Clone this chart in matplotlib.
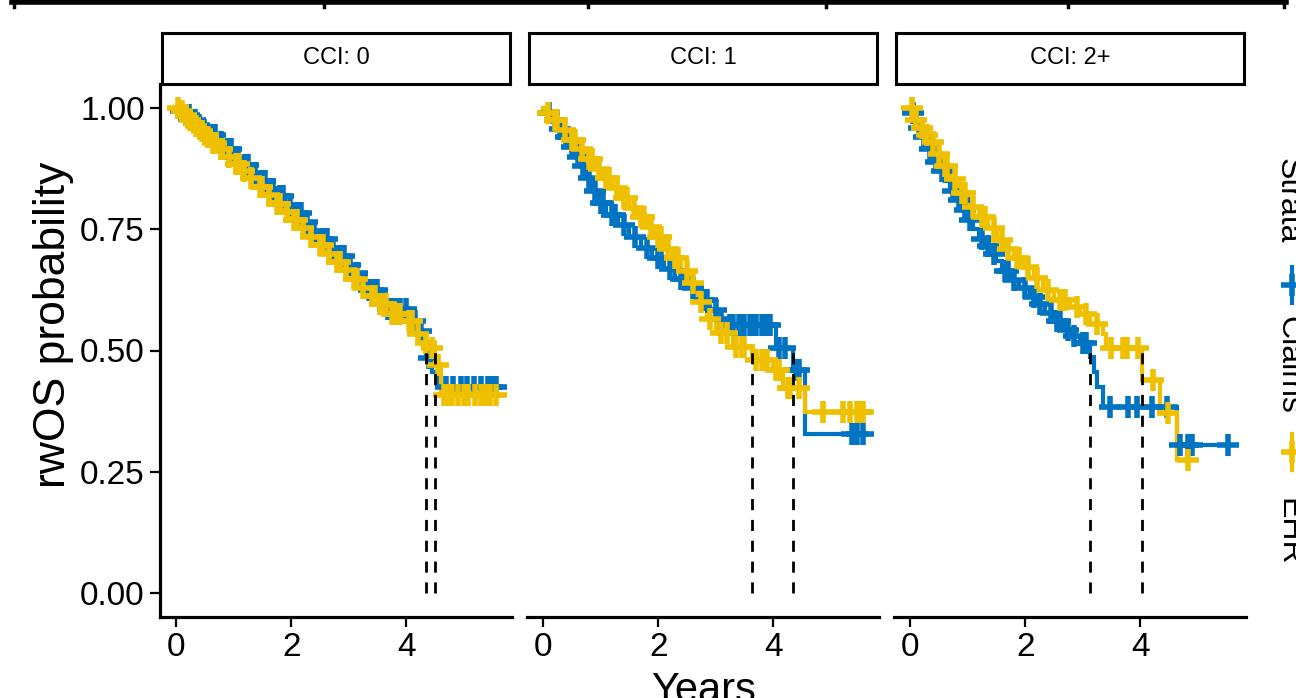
import numpy as np
import matplotlib
matplotlib.use("Agg")
import matplotlib.pyplot as plt
from matplotlib.lines import Line2D

plt.rcParams['font.family'] = ['Liberation Sans', 'DejaVu Sans']

# ---------------- data ----------------
panel_titles = ["CCI: 0", "CCI: 1", "CCI: 2+"]
strata_names = ["Claims", "EHR"]
strata_colors = ["#0073C2", "#EFC000"]
x_ticks = [0, 2, 4]
y_ticks = [0.00, 0.25, 0.50, 0.75, 1.00]
y_ticklabels = ["0.00", "0.25", "0.50", "0.75", "1.00"]

# CCI: 0
p1_claims_t = [0.05, 0.15, 0.25, 0.35, 0.45, 0.55, 0.7, 0.85, 1.0, 1.15, 1.3, 1.45, 1.6, 1.75, 1.9,
               2.05, 2.2, 2.35, 2.5, 2.65, 2.8, 2.95, 3.1, 3.25, 3.3, 3.6, 3.65, 4.1, 4.2, 4.3, 4.35,
               4.45, 4.55]
p1_claims_s = [0.995, 0.985, 0.975, 0.965, 0.955, 0.945, 0.93, 0.915, 0.898, 0.882, 0.866, 0.85, 0.834,
               0.818, 0.80, 0.783, 0.765, 0.747, 0.73, 0.712, 0.694, 0.676, 0.66, 0.64, 0.625, 0.60,
               0.585, 0.56, 0.54, 0.51, 0.485, 0.455, 0.425]
p1_claims_cens = [0.08, 0.18, 0.22, 0.32, 0.4, 0.48, 0.6, 0.67, 0.78, 0.9, 0.95, 1.08, 1.2, 1.25, 1.38,
                  1.5, 1.55, 1.68, 1.8, 1.85, 1.98, 2.1, 2.18, 2.28, 2.4, 2.55, 2.62, 2.72, 2.85, 2.92,
                  3.02, 3.15, 3.28, 3.35, 3.42, 3.5, 3.68, 3.75, 3.82, 3.9, 4.0, 4.15, 4.25, 4.4, 4.7,
                  4.82, 4.95, 5.05, 5.18, 5.3, 5.42, 5.5, 5.56]
p1_ehr_t = [0.05, 0.12, 0.2, 0.3, 0.4, 0.5, 0.6, 0.72, 0.85, 1.0, 1.12, 1.25, 1.4, 1.55, 1.7, 1.85,
            2.0, 2.15, 2.3, 2.45, 2.6, 2.75, 2.9, 3.05, 3.2, 3.35, 3.5, 3.7, 3.95, 4.15, 4.3, 4.4,
            4.5, 4.6]
p1_ehr_s = [0.995, 0.985, 0.975, 0.963, 0.952, 0.94, 0.928, 0.915, 0.9, 0.885, 0.87, 0.855, 0.838,
            0.82, 0.803, 0.786, 0.77, 0.752, 0.735, 0.718, 0.70, 0.683, 0.666, 0.648, 0.63, 0.612,
            0.595, 0.575, 0.56, 0.535, 0.515, 0.505, 0.47, 0.408]
p1_ehr_cens = [0.03, 0.1, 0.17, 0.25, 0.35, 0.45, 0.55, 0.65, 0.7, 0.8, 0.92, 1.05, 1.1, 1.18, 1.3,
               1.45, 1.5, 1.62, 1.75, 1.8, 1.92, 2.05, 2.1, 2.2, 2.35, 2.5, 2.55, 2.65, 2.8, 2.85,
               2.95, 3.1, 3.15, 3.25, 3.4, 3.45, 3.55, 3.6, 3.65, 3.75, 3.8, 3.85, 3.9, 4.05, 4.1,
               4.2, 4.35, 4.45, 4.55, 4.65, 4.72, 4.8, 4.9, 5.0, 5.08, 5.2, 5.3, 5.38, 5.45, 5.56]

# CCI: 1
p2_claims_t = [0.05, 0.15, 0.25, 0.35, 0.45, 0.55, 0.65, 0.75, 0.85, 0.95, 1.1, 1.3, 1.5, 1.7, 1.9,
               2.1, 2.3, 2.5, 2.7, 2.9, 3.05, 3.2, 4.05, 4.35, 4.56]
p2_claims_s = [0.99, 0.975, 0.958, 0.94, 0.92, 0.90, 0.88, 0.855, 0.83, 0.805, 0.78, 0.758, 0.735,
               0.712, 0.69, 0.668, 0.648, 0.628, 0.605, 0.583, 0.565, 0.553, 0.505, 0.46, 0.327]
p2_claims_cens = [0.1, 0.2, 0.3, 0.4, 0.5, 0.6, 0.7, 0.8, 0.9, 1.0, 1.05, 1.2, 1.25, 1.4, 1.6, 1.8,
                  2.0, 2.05, 2.2, 2.4, 2.45, 2.6, 2.8, 2.85, 3.0, 3.1, 3.25, 3.3, 3.4, 3.45, 3.5,
                  3.6, 3.65, 3.7, 3.8, 3.85, 3.9, 3.95, 4.1, 4.2, 4.4, 4.45, 5.37, 5.46, 5.56]
p2_ehr_t = [0.05, 0.15, 0.3, 0.45, 0.6, 0.75, 0.9, 1.05, 1.2, 1.35, 1.5, 1.65, 1.8, 1.95, 2.1, 2.25,
            2.4, 2.55, 2.7, 2.85, 3.0, 3.3, 3.63, 4.0, 4.17, 4.56]
p2_ehr_s = [0.99, 0.975, 0.955, 0.935, 0.915, 0.895, 0.875, 0.855, 0.835, 0.815, 0.795, 0.775, 0.755,
            0.735, 0.71, 0.69, 0.665, 0.64, 0.60, 0.565, 0.536, 0.507, 0.48, 0.46, 0.422, 0.373]
p2_ehr_cens = [0.08, 0.2, 0.25, 0.38, 0.5, 0.55, 0.68, 0.8, 0.85, 0.98, 1.1, 1.15, 1.28, 1.4, 1.45,
               1.58, 1.7, 1.75, 1.88, 2.0, 2.05, 2.18, 2.3, 2.35, 2.5, 2.6, 2.75, 2.9, 3.1, 3.2,
               3.35, 3.45, 3.5, 3.7, 3.8, 3.9, 4.05, 4.1, 4.25, 4.3, 4.45, 4.87, 5.22, 5.34, 5.46,
               5.52, 5.56]

# CCI: 2+
p3_claims_t = [0.04, 0.12, 0.2, 0.3, 0.4, 0.5, 0.6, 0.7, 0.81, 0.9, 1.0, 1.1, 1.2, 1.3, 1.39, 1.5,
               1.6, 1.74, 1.9, 2.09, 2.2, 2.35, 2.5, 2.67, 2.8, 2.95, 3.13, 3.2, 3.25, 3.36, 4.64]
p3_claims_s = [0.99, 0.96, 0.94, 0.915, 0.89, 0.87, 0.85, 0.83, 0.81, 0.79, 0.77, 0.75, 0.73, 0.715,
               0.70, 0.685, 0.665, 0.646, 0.628, 0.611, 0.595, 0.578, 0.56, 0.542, 0.53, 0.515,
               0.487, 0.455, 0.425, 0.383, 0.306]
p3_claims_cens = [0.05, 0.15, 0.25, 0.35, 0.45, 0.55, 0.75, 0.85, 0.95, 1.05, 1.25, 1.35, 1.45, 1.65,
                  1.7, 1.8, 2.0, 2.15, 2.25, 2.45, 2.55, 2.6, 2.75, 2.85, 3.0, 3.05, 3.48, 3.79, 3.95,
                  4.2, 4.46, 4.70, 4.84, 4.90, 5.53]
p3_ehr_t = [0.06, 0.15, 0.25, 0.35, 0.45, 0.55, 0.7, 0.85, 1.04, 1.2, 1.35, 1.51, 1.65, 1.8, 1.97,
            2.15, 2.31, 2.5, 2.78, 2.95, 3.13, 3.36, 3.4, 4.03, 4.35, 4.64]
p3_ehr_s = [0.975, 0.96, 0.945, 0.93, 0.905, 0.88, 0.853, 0.825, 0.797, 0.775, 0.752, 0.729, 0.71,
            0.69, 0.673, 0.65, 0.625, 0.605, 0.59, 0.575, 0.555, 0.535, 0.505, 0.44, 0.37, 0.273]
p3_ehr_cens = [0.03, 0.1, 0.2, 0.3, 0.4, 0.5, 0.6, 0.65, 0.78, 0.9, 0.95, 1.1, 1.25, 1.3, 1.45, 1.6,
               1.7, 1.85, 1.9, 2.05, 2.2, 2.4, 2.6, 2.7, 2.9, 3.05, 3.25, 3.5, 3.7, 3.77, 3.97, 4.22,
               4.49, 4.84]

curves = [
    [(p1_claims_t, p1_claims_s, p1_claims_cens), (p1_ehr_t, p1_ehr_s, p1_ehr_cens)],
    [(p2_claims_t, p2_claims_s, p2_claims_cens), (p2_ehr_t, p2_ehr_s, p2_ehr_cens)],
    [(p3_claims_t, p3_claims_s, p3_claims_cens), (p3_ehr_t, p3_ehr_s, p3_ehr_cens)],
]

# ---------------- layout ----------------
W, H = 1296, 698
fig = plt.figure(figsize=(W / 100, H / 100), dpi=100)


def fx(px):
    return px / W


def fy(py):
    return 1 - py / H


panel_left = [160, 527, 894]
panel_w = 352
ax_top, ax_bot = 84, 617
strip_top = 33

LW = 2.3
CLW = 3.0
MS, MEW = 16, 4.0
for i, title in enumerate(panel_titles):
    ax = fig.add_axes([fx(panel_left[i]), fy(ax_bot), fx(panel_w), (ax_bot - ax_top) / H])
    ax.set_xlim(-0.28, 5.84)
    ax.set_ylim(-0.05, 1.05)
    meds = []
    for (t, s, c), col in zip(curves[i], strata_colors):
        tt = np.array([0.0] + list(t) + [max(c[-1], t[-1])])
        ss = np.array([1.0] + list(s) + [s[-1]])
        ax.step(tt, ss, where='post', color=col, lw=CLW, solid_joinstyle='miter', zorder=2)
        below = np.where(np.array(s) <= 0.5)[0]
        if len(below):
            meds.append(t[below[0]])
    for (t, s, c), col in zip(curves[i], strata_colors):
        tt = np.array([0.0] + list(t))
        ss = np.array([1.0] + list(s))
        idx = np.searchsorted(tt, np.array(c), side='right') - 1
        ax.plot(c, ss[idx], linestyle='none', marker='+', ms=MS, mew=MEW, color=col, zorder=3)
    for m in meds:
        ax.plot([m, m], [0, 0.5], color='black', lw=2.0, linestyle=(0, (4, 3.5)), zorder=4)

    for sp in ['top', 'right']:
        ax.spines[sp].set_visible(False)
    ax.spines['bottom'].set_linewidth(LW)
    ax.spines['left'].set_linewidth(LW)
    ax.set_xticks(x_ticks)
    ax.set_xticklabels([str(v) for v in x_ticks], fontsize=24)
    ax.tick_params(axis='x', length=7, width=1.6, pad=4, colors='black')
    if i == 0:
        ax.set_yticks(y_ticks)
        ax.set_yticklabels(y_ticklabels, fontsize=24)
        ax.tick_params(axis='y', length=7, width=1.6, pad=4)
        ax.set_ylabel("rwOS probability", fontsize=32)
        ax.yaxis.set_label_coords(-0.243, 0.548)
    else:
        ax.spines['left'].set_visible(False)
        ax.set_yticks([])
    ax.patch.set_alpha(0)

    # strip
    sax = fig.add_axes([fx(panel_left[i] + 2), fy(ax_top), fx(panel_w - 4), (ax_top - strip_top) / H])
    sax.set_xticks([]); sax.set_yticks([])
    for sp in sax.spines.values():
        sp.set_linewidth(2.2)
    sax.text(0.5, 0.5, title, ha='center', va='center', fontsize=17, transform=sax.transAxes)

# x label
fig.text(fx(704), fy(702), "Years", ha='center', va='baseline', fontsize=30)

# legend (rotated, clipped at the right edge)
fig.text(fx(1280), fy(158), "Strata", rotation=-90, rotation_mode='anchor',
         ha='left', va='baseline', fontsize=23)
fig.text(fx(1280), fy(316), "Claims", rotation=-90, rotation_mode='anchor',
         ha='left', va='baseline', fontsize=23)
fig.text(fx(1280), fy(498), "EHR", rotation=-90, rotation_mode='anchor',
         ha='left', va='baseline', fontsize=23)
for yk, col in zip([285, 452], strata_colors):
    fig.add_artist(Line2D([fx(1292), fx(1292)], [fy(yk - 18), fy(yk + 18)], color=col, lw=CLW))
    fig.add_artist(Line2D([fx(1292)], [fy(yk)], marker='+', ms=MS, mew=MEW, color=col))

# top table border remnant
fig.add_artist(Line2D([fx(12), fx(1286)], [fy(2), fy(2)], color='black', lw=4))
for xd in [14, 324, 588, 826, 1068, 1284]:
    fig.add_artist(Line2D([fx(xd), fx(xd)], [fy(0), fy(7)], color='black', lw=2.5))

fig.savefig("out.png", dpi=100)
